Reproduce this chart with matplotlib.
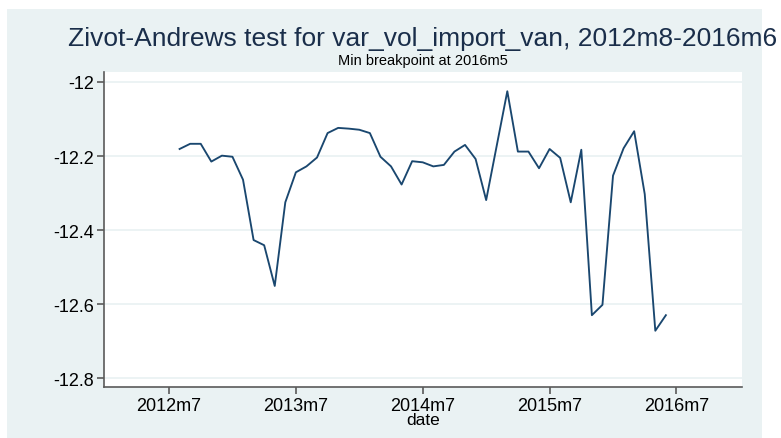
import matplotlib.pyplot as plt
from matplotlib.patches import Rectangle
import numpy as np

plt.rcParams['font.family'] = ['Liberation Sans', 'DejaVu Sans']

# monthly index, 0 = 2012m7; series runs 2012m8 .. 2016m6
months = list(range(1, 48))
tstat = [-12.181, -12.167, -12.167, -12.215, -12.199, -12.202, -12.264, -12.427,
         -12.441, -12.551, -12.325, -12.244, -12.228, -12.204, -12.138, -12.124,
         -12.126, -12.129, -12.138, -12.202, -12.228, -12.277, -12.214, -12.217,
         -12.228, -12.224, -12.188, -12.170, -12.208, -12.319, -12.172, -12.025,
         -12.188, -12.188, -12.233, -12.181, -12.205, -12.325, -12.183, -12.630,
         -12.602, -12.253, -12.179, -12.133, -12.303, -12.672, -12.630]

xtick_pos = [0, 12, 24, 36, 48]
xtick_labels = ['2012m7', '2013m7', '2014m7', '2015m7', '2016m7']
ytick_pos = [-12.0, -12.2, -12.4, -12.6, -12.8]
ytick_labels = ['-12', '-12.2', '-12.4', '-12.6', '-12.8']

bg = '#EAF2F3'
navy = '#1a476f'
W, H = 781, 439

fig = plt.figure(figsize=(W / 100, H / 100), dpi=100)
fig.patch.set_facecolor('white')
fig.patches.append(Rectangle((7 / W, 0), (762 - 7) / W, (H - 10) / H,
                             transform=fig.transFigure, facecolor=bg,
                             edgecolor='none', zorder=-5))

ax = fig.add_axes([104 / W, (H - 388) / H, (742 - 104) / W, (388 - 73) / H])
ax.set_zorder(1)
ax.set_facecolor('white')
ax.plot(months, tstat, color=navy, lw=1.35)

ax.set_xlim(-6.15, 54.2)
ax.set_ylim(-12.824, -11.973)
ax.set_xticks(xtick_pos)
ax.set_xticklabels(xtick_labels, fontsize=13)
ax.set_yticks(ytick_pos)
ax.set_yticklabels(ytick_labels, fontsize=13)
ax.yaxis.grid(True, color=bg, lw=1.3)
ax.set_axisbelow(True)
for s in ['top', 'right']:
    ax.spines[s].set_visible(False)
for s in ['left', 'bottom']:
    ax.spines[s].set_color('#5a5a5a')
    ax.spines[s].set_linewidth(1.2)
ax.tick_params(axis='both', length=5, width=1.2, color='#5a5a5a', pad=2)
ax.set_xlabel('date', fontsize=12.5, labelpad=-1)

fig.text(423 / W, 1 - 39 / H, 'Zivot-Andrews test for var_vol_import_van, 2012m8-2016m6',
         ha='center', va='center', fontsize=19, color='#1a2e4a')
fig.text(423 / W, 1 - 61 / H, 'Min breakpoint at 2016m5',
         ha='center', va='center', fontsize=10.5, color='black')

fig.savefig('out.png', dpi=100)
